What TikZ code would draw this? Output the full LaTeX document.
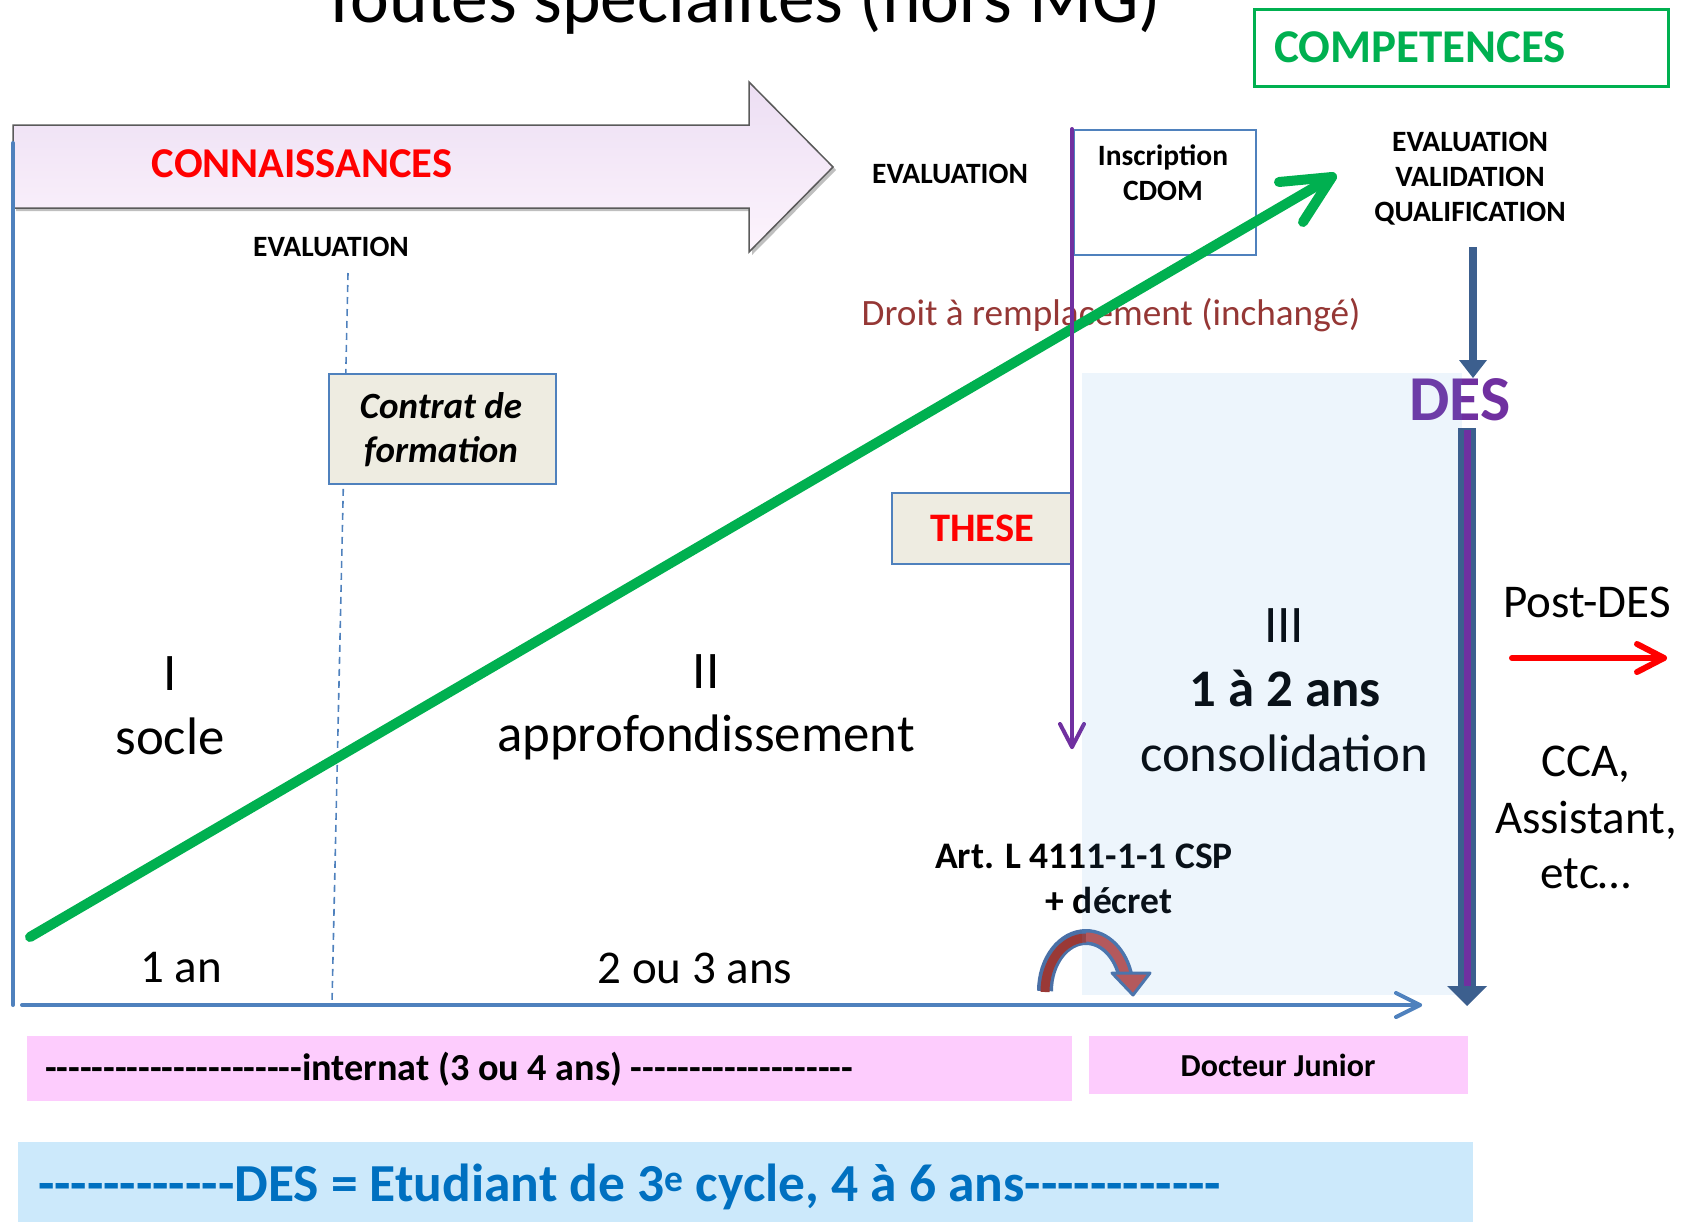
\documentclass[tikz,border=0pt]{standalone}
\usepackage{fontspec}
\setmainfont{Carlito}[Ligatures=TeXOff]
\definecolor{axisblue}{HTML}{4F81BD}
\definecolor{grn}{HTML}{00B050}
\definecolor{purp}{HTML}{7030A0}
\definecolor{dkred}{HTML}{953735}
\definecolor{boxfill}{HTML}{EEECE1}
\definecolor{pinkbar}{HTML}{FDCCFD}
\definecolor{bluebar}{HTML}{CCE9FB}
\definecolor{txtblue}{HTML}{0070C0}
\definecolor{dkblue}{HTML}{3C5F8E}
\definecolor{ovl}{HTML}{5BA3E6}
\definecolor{arrredA}{HTML}{9A3936}
\definecolor{arrredB}{HTML}{C0504D}
\definecolor{arrborder}{HTML}{4A70A6}
\newcommand{\fsz}[2]{\fontsize{#1}{#2}\selectfont}
\begin{document}
\begin{tikzpicture}[x=1pt,y=-1pt,
  txt/.style={inner sep=0pt,outer sep=0pt},
  capb/.style={txt,font=\bfseries\fsz{29.5}{33}},
  big/.style={txt,anchor=base,font=\fsz{52.8}{60}},
  yrs/.style={txt,anchor=base,font=\fsz{47}{54}},
  side/.style={txt,anchor=base,font=\fsz{47}{54}},
  infobox/.style={draw=axisblue,fill=boxfill,line width=1.5pt,inner sep=0pt,anchor=north west},
  bar/.style={inner sep=0pt,anchor=north west},
  axisline/.style={draw=axisblue,line width=4pt,line cap=round,line join=round},
  greenline/.style={draw=grn,line width=10pt,line cap=round,line join=round},
  purpline/.style={draw=purp,line width=4pt,line cap=round,line join=round},
  redline/.style={draw=red,line width=6pt,line cap=round,line join=round}
]
\useasboundingbox (0,0) rectangle (1685,1221);

% title (cut by the top edge, as in the reference)
\node[txt,anchor=base,font=\fsz{73.5}{80}] (title) at (741,22) {Toutes spécialités (hors MG)};

% COMPETENCES
\node[draw=grn,line width=3pt,minimum width=414pt,minimum height=77pt,inner sep=0pt,anchor=north west] (compbox) at (1253,8) {};
\node[txt,anchor=base west,font=\bfseries\fsz{47}{50},text=grn] (comp) at (1274,62) {COMPETENCES};

% CONNAISSANCES arrow
\fill[black,opacity=0.25] (16,128) -- (752,128) -- (752,85) -- (836,170) -- (752,255) -- (752,211) -- (16,211) -- cycle;
\path[top color={rgb,255:red,236;green,222;blue,243},bottom color={rgb,255:red,253;green,244;blue,253},draw={rgb,255:red,90;green,90;blue,90},line width=1.5pt]
  (13,125) -- (749,125) -- (749,82) -- (833,167) -- (749,252) -- (749,208) -- (13,208) -- cycle;
\node[txt,font=\bfseries\fsz{42.5}{48},text=red] (conn) at (302,164) {CONNAISSANCES};

% axes
\coordinate (vT) at (13,143);
\coordinate (vB) at (13,1005);
\draw[axisline] (vT) -- (vB);
\coordinate (axO) at (22,1005);
\coordinate (axE) at (1420,1005);
\coordinate (axB1) at (1396,993);
\coordinate (axB2) at (1396,1017);
\draw[axisline] (axO) -- (axE);
\draw[axisline] (axB1) -- (axE) -- (axB2);

% evaluation texts
\node[capb] (evalL) at (331,247) {EVALUATION};
\node[capb] (evalM) at (950,174) {EVALUATION};
\node[capb,anchor=base] (ev3) at (1470,151) {EVALUATION};
\node[capb,anchor=base] (val3) at (1470,186) {VALIDATION};
\node[capb,anchor=base] (qual3) at (1470,221) {QUALIFICATION};

% dashed line + Contrat box
\coordinate (dT) at (348,273);
\coordinate (dB) at (332,1003);
\draw[axisblue,line width=1.6pt,dash pattern=on 7pt off 5pt] (dT) -- (dB);
\node[infobox,minimum width=227pt,minimum height=110pt] (contratbox) at (328,373) {};
\node[txt,anchor=base,font=\bfseries\itshape\fsz{37}{40}] (contrat1) at (441,418) {Contrat de};
\node[txt,anchor=base,font=\bfseries\itshape\fsz{37}{40}] (contrat2) at (441,462) {formation};

% Inscription CDOM box
\node[draw=axisblue,line width=1.5pt,minimum width=182pt,minimum height=125pt,inner sep=0pt,anchor=north west] (inscbox) at (1073,129) {};
\node[capb,anchor=base] (insc1) at (1163,165) {Inscription};
\node[capb,anchor=base] (insc2) at (1163,200) {CDOM};

% THESE box
\node[infobox,minimum width=181pt,minimum height=71pt] (thesebox) at (891,492) {};
\node[txt,font=\bfseries\fsz{40.5}{44},text=red] (these) at (982,528) {THESE};

% Droit a remplacement
\node[txt,anchor=base,font=\fsz{37.2}{42},text=dkred] (droit) at (1111,325) {Droit à remplacement (inchangé)};

% phase texts
\node[big] (ph1) at (170,690) {I};
\node[big] (socle) at (170,754) {socle};
\node[big] (ph2) at (706,688) {II};
\node[big] (appro) at (706,751) {approfondissement};
\node[big] (ph3) at (1284,642) {III};
\node[big,font=\bfseries\fsz{52.8}{60}] (duree3) at (1285,706) {1 à 2 ans};
\node[big] (conso) at (1284,771) {consolidation};
\node[yrs] (an1) at (181,982) {1 an};
\node[yrs] (an2) at (695,983) {2 ou 3 ans};

% article
\node[txt,anchor=base,font=\bfseries\fsz{37.5}{42}] (art) at (1084,868) {Art. L 4111-1-1 CSP};
\node[txt,anchor=base,font=\bfseries\fsz{37.5}{42}] (decret) at (1109,913) {+ décret};

% green arrow
\coordinate (g0) at (30,937);
\coordinate (g1) at (1332,177);
\coordinate (gb1) at (1279,182);
\coordinate (gb2) at (1303,222);
\draw[greenline] (g0) -- (g1);
\draw[greenline] (gb1) -- (g1) -- (gb2);

% purple arrow
\coordinate (p0) at (1072,129);
\coordinate (p1) at (1072,747);
\coordinate (pb1) at (1060,724);
\coordinate (pb2) at (1084,724);
\draw[purpline] (p0) -- (p1);
\draw[purpline] (pb1) -- (p1) -- (pb2);

% DES
\node[txt,font=\bfseries\fsz{64}{70},text=purp] (des) at (1460,400) {DES};

% curved arrow
\coordinate (cu0) at (1045,991);
\coordinate (cuTop) at (1086,937);
\draw[arrborder,line width=16pt] (cu0) arc[start angle=180,end angle=15,x radius=41pt,y radius=54pt];
\draw[arrredA,line width=9pt] ([yshift=-1pt]cu0) arc[start angle=180,end angle=90,x radius=41pt,y radius=54pt];
\draw[arrredB,line width=9pt] (cuTop) arc[start angle=90,end angle=15,x radius=41pt,y radius=54pt];
\filldraw[fill=arrredB,draw=arrborder,line width=3pt,line join=round] (1112,973) -- (1150,973) -- (1133,995) -- cycle;

% light blue overlay (phase III)
\fill[ovl,fill opacity=0.11] (1082,373) rectangle (1462,995);

% top dark blue arrow
\coordinate (q0) at (1473,247);
\coordinate (q1) at (1473,378);
\draw[dkblue,line width=8pt] (q0) -- (1473,362);
\fill[dkblue] (1459,360) -- (1487,360) -- (q1) -- cycle;

% big vertical arrow
\coordinate (r0) at (1467,428);
\coordinate (r1) at (1467,1006);
\draw[dkblue,line width=18pt] (r0) -- (1467,988);
\draw[purp,line width=7pt] (1467,430) -- (1467,992);
\fill[dkblue] (1447,986) -- (1487,986) -- (r1) -- cycle;

% post-DES
\node[side] (post) at (1587,617) {Post-DES};
\coordinate (s0) at (1512,658);
\coordinate (s1) at (1664,658);
\draw[redline] (s0) -- (s1);
\draw[redline] (1637,644) -- (s1) -- (1637,672);
\node[side] (cca) at (1586,776) {CCA,};
\node[side] (assist) at (1586,833) {Assistant,};
\node[side] (etc) at (1586,888) {etc…};

% bottom bars
\node[bar,fill=pinkbar,minimum width=1045pt,minimum height=65pt] (bar1) at (27,1036) {};
\node[txt,anchor=base west,font=\bfseries\fsz{38.2}{42}] (internat) at (45,1080) {----------------------internat (3 ou 4 ans) -------------------};
\node[bar,fill=pinkbar,minimum width=379pt,minimum height=58pt] (bar2) at (1089,1036) {};
\node[txt,anchor=base,font=\bfseries\fsz{32}{36}] (dj) at (1278,1076) {Docteur Junior};
\node[bar,fill=bluebar,minimum width=1455pt,minimum height=85pt] (bar3) at (18,1142) {};
\node[txt,anchor=base west,font=\bfseries\fsz{53.5}{60},text=txtblue] (desline) at (38,1201) {------------DES = Etudiant de 3\textsuperscript{e} cycle, 4 à 6 ans------------};
\end{tikzpicture}
\end{document}
